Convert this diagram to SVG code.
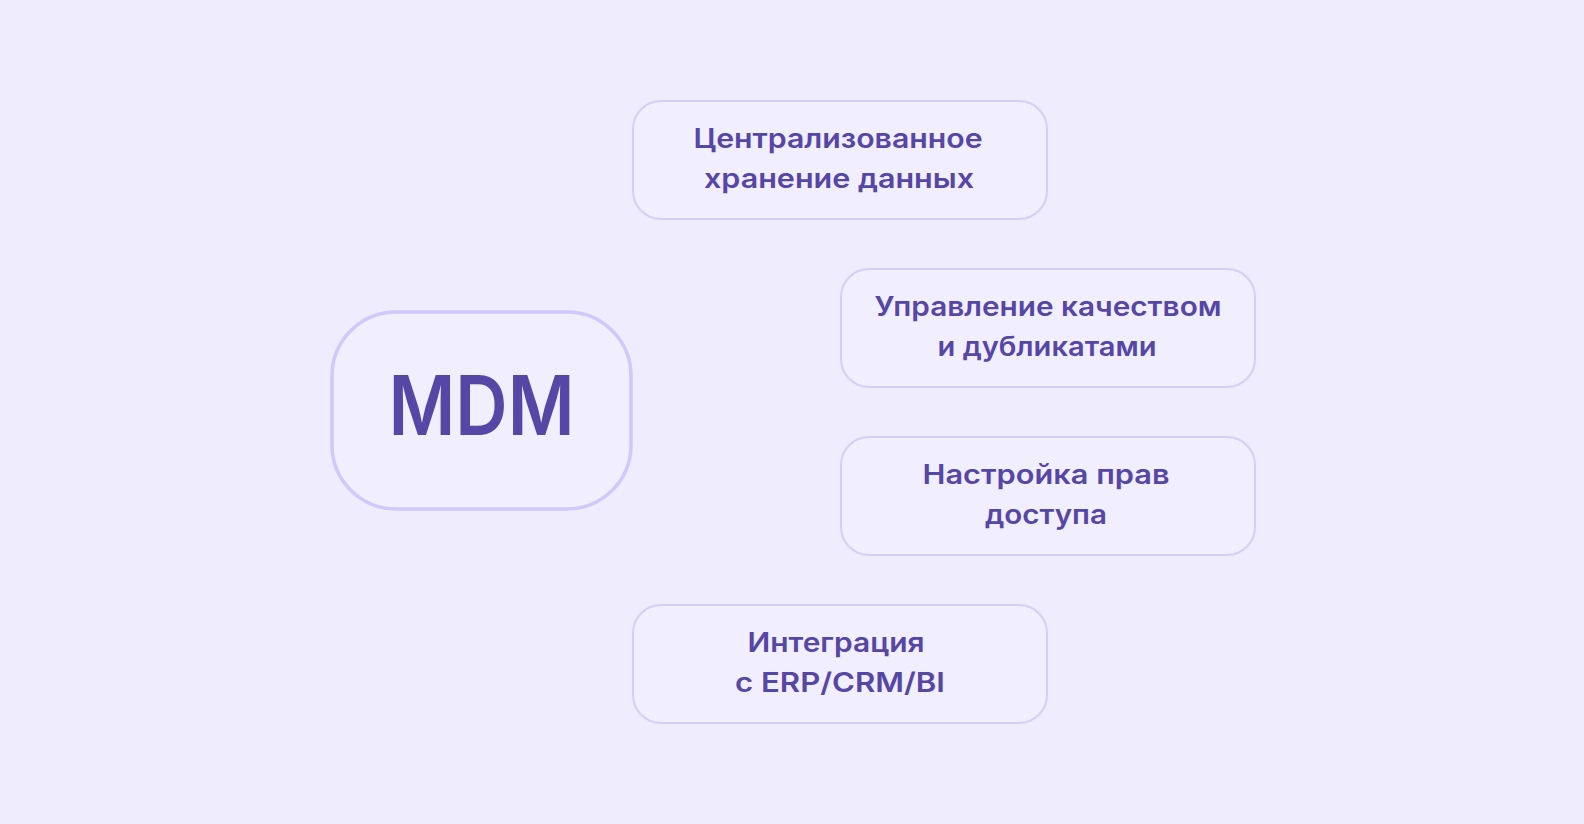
<svg xmlns="http://www.w3.org/2000/svg" width="1584" height="824" viewBox="0 0 1584 824">
  <style>
    .bg { fill: #efecfd; }
    .box { fill: #f1eefe; stroke: #d6cff6; stroke-width: 2; }
    .hub { fill: #f1eefe; stroke: #d1c8fb; stroke-width: 3.5; }
    .lbl { font-family: Inter, "Liberation Sans", Arial, sans-serif; font-weight: 600; fill: #5646a5; text-anchor: middle; }
    .t { font-size: 27px; }
    .big { font-size: 82px; }
  </style>
  <rect class="bg" x="0" y="0" width="1584" height="824"/>
  <g id="connectors"></g>
  <g id="node-mdm">
    <rect class="hub" x="332" y="312" width="299" height="197" rx="64" ry="64"/>
    <text class="lbl big" x="481.5" y="435" textLength="186" lengthAdjust="spacingAndGlyphs">MDM</text>
  </g>
  <g id="node-storage">
    <rect class="box" x="633" y="101" width="414" height="118" rx="28" ry="28"/>
    <text class="lbl t" x="838" y="148" textLength="289" lengthAdjust="spacingAndGlyphs">Централизованное</text>
    <text class="lbl t" x="839" y="188" textLength="270" lengthAdjust="spacingAndGlyphs">хранение данных</text>
  </g>
  <g id="node-quality">
    <rect class="box" x="841" y="269" width="414" height="118" rx="28" ry="28"/>
    <text class="lbl t" x="1048" y="316" textLength="347" lengthAdjust="spacingAndGlyphs">Управление качеством</text>
    <text class="lbl t" x="1047" y="356" textLength="219" lengthAdjust="spacingAndGlyphs">и дубликатами</text>
  </g>
  <g id="node-access">
    <rect class="box" x="841" y="437" width="414" height="118" rx="28" ry="28"/>
    <text class="lbl t" x="1046" y="484" textLength="247" lengthAdjust="spacingAndGlyphs">Настройка прав</text>
    <text class="lbl t" x="1046" y="524" textLength="122" lengthAdjust="spacingAndGlyphs">доступа</text>
  </g>
  <g id="node-integration">
    <rect class="box" x="633" y="605" width="414" height="118" rx="28" ry="28"/>
    <text class="lbl t" x="836" y="652" textLength="177" lengthAdjust="spacingAndGlyphs">Интеграция</text>
    <text class="lbl t" x="840" y="692" textLength="210" lengthAdjust="spacingAndGlyphs">с ERP/CRM/BI</text>
  </g>
</svg>
